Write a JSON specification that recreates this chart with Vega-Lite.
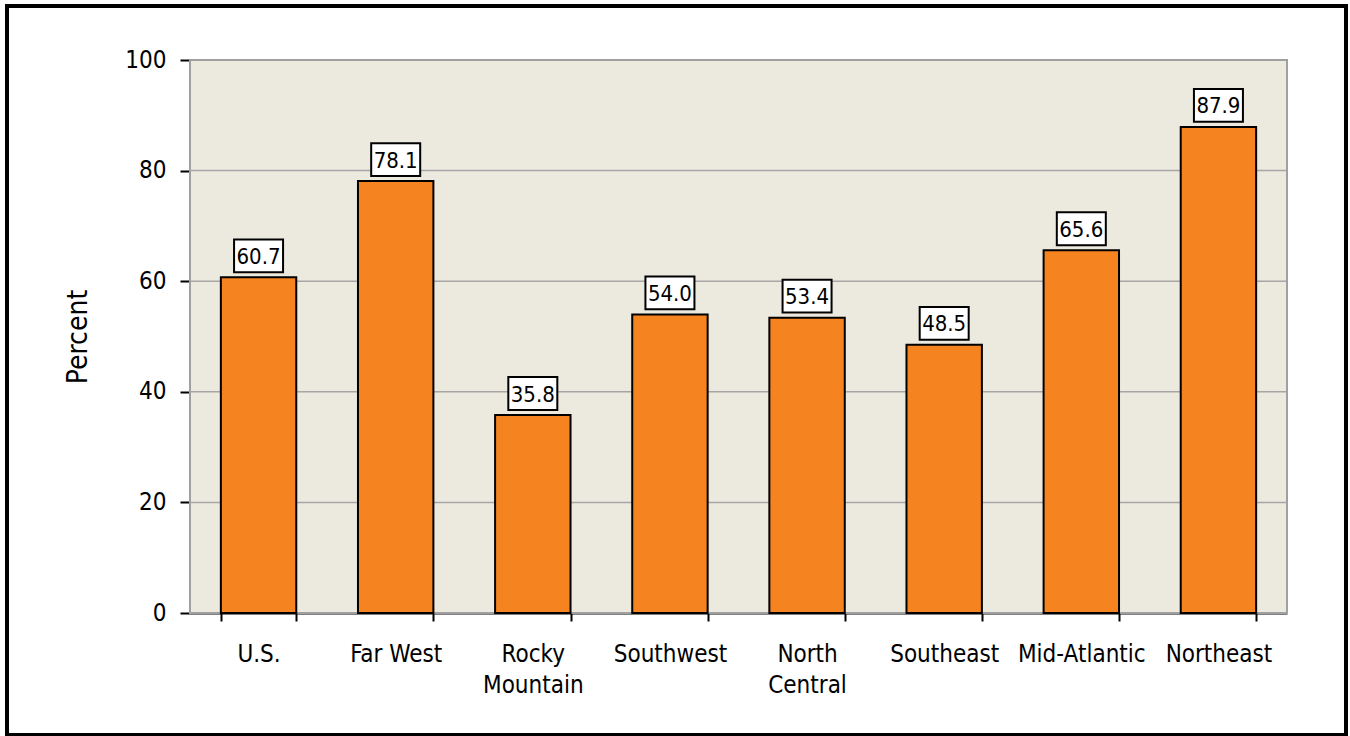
{
  "$schema": "https://vega.github.io/schema/vega-lite/v6.json",
  "width": 1339,
  "height": 729,
  "padding": {"left": 7, "top": 6, "right": 4, "bottom": 1},
  "autosize": {"type": "none"},
  "background": "white",
  "config": {
    "view": {"stroke": "black", "strokeWidth": 4, "fill": "white"},
    "font": "Liberation Sans Narrow, Arial Narrow, DejaVu Sans Condensed, sans-serif"
  },
  "datasets": {
    "regions": [
      {"region": "U.S.", "value": 60.7},
      {"region": "Far West", "value": 78.1},
      {"region": "Rocky Mountain", "value": 35.8},
      {"region": "Southwest", "value": 54.0},
      {"region": "North Central", "value": 53.4},
      {"region": "Southeast", "value": 48.5},
      {"region": "Mid-Atlantic", "value": 65.6},
      {"region": "Northeast", "value": 87.9}
    ],
    "panel": [{"x0": 0, "x1": 1, "y0": 0, "y1": 100}],
    "grid": [
      {"x0": 0, "x1": 1, "g": 20},
      {"x0": 0, "x1": 1, "g": 40},
      {"x0": 0, "x1": 1, "g": 60},
      {"x0": 0, "x1": 1, "g": 80}
    ]
  },
  "layer": [
    {
      "data": {"name": "panel"},
      "mark": {"type": "rect", "fill": "#ECE9DF", "stroke": "#A0A0A0", "strokeWidth": 2},
      "encoding": {
        "x": {"field": "x0", "type": "quantitative", "scale": {"domain": [0, 1], "range": [183, 1280], "nice": false, "zero": false}, "axis": null},
        "x2": {"field": "x1"},
        "y": {
          "field": "y0", "type": "quantitative",
          "scale": {"domain": [0, 100], "range": [607, 54], "nice": false},
          "axis": {
            "title": "Percent",
            "offset": -183,
            "values": [0, 20, 40, 60, 80, 100],
            "grid": false,
            "domainColor": "black",
            "domainWidth": 2,
            "tickColor": "black",
            "tickWidth": 2,
            "tickSize": 10,
            "labelFontSize": 24,
            "labelColor": "black",
            "labelPadding": 14,
            "titleFontSize": 28,
            "titleFontWeight": "normal",
            "titleColor": "black",
            "titlePadding": 32
          }
        },
        "y2": {"field": "y1"}
      }
    },
    {
      "data": {"name": "grid"},
      "mark": {"type": "rule", "stroke": "#A6A6A6", "strokeWidth": 1.5},
      "encoding": {
        "x": {"field": "x0", "type": "quantitative", "scale": {"domain": [0, 1], "range": [183, 1280], "nice": false, "zero": false}, "axis": null},
        "x2": {"field": "x1"},
        "y": {"field": "g", "type": "quantitative"}
      }
    },
    {
      "data": {"name": "regions"},
      "layer": [
        {
          "mark": {"type": "bar", "fill": "#F5831F", "stroke": "black", "strokeWidth": 2},
          "encoding": {
            "x": {
              "field": "region", "type": "nominal", "sort": null,
              "scale": {"range": [183, 1280], "paddingInner": 0.45, "paddingOuter": 0.225},
              "axis": {
                "title": null,
                "offset": -122,
                "labelAngle": 0,
                "domainColor": "black",
                "domainWidth": 2,
                "tickColor": "black",
                "tickWidth": 2,
                "tickSize": 8,
                "tickBand": "extent",
                "labelFontSize": 24,
                "labelColor": "black",
                "labelPadding": 21,
                "labelLineHeight": 31,
                "labelExpr": "datum.label == 'Rocky Mountain' ? ['Rocky', 'Mountain'] : datum.label == 'North Central' ? ['North', 'Central'] : datum.label"
              }
            },
            "y": {"field": "value", "type": "quantitative"}
          }
        },
        {
          "mark": {"type": "point", "shape": "M-1,-0.67H1V0.67H-1Z", "size": 2401, "filled": true, "fill": "white", "stroke": "black", "strokeWidth": 2, "opacity": 1, "yOffset": -21.5},
          "encoding": {
            "x": {"field": "region", "type": "nominal", "sort": null},
            "y": {"field": "value", "type": "quantitative"}
          }
        },
        {
          "mark": {"type": "text", "fontSize": 22, "color": "black", "baseline": "middle", "align": "center", "dy": -20.5},
          "encoding": {
            "x": {"field": "region", "type": "nominal", "sort": null},
            "y": {"field": "value", "type": "quantitative"},
            "text": {"field": "value", "type": "quantitative", "format": ".1f"}
          }
        }
      ]
    }
  ],
  "resolve": {"scale": {"x": "independent"}, "axis": {"x": "independent"}}
}
